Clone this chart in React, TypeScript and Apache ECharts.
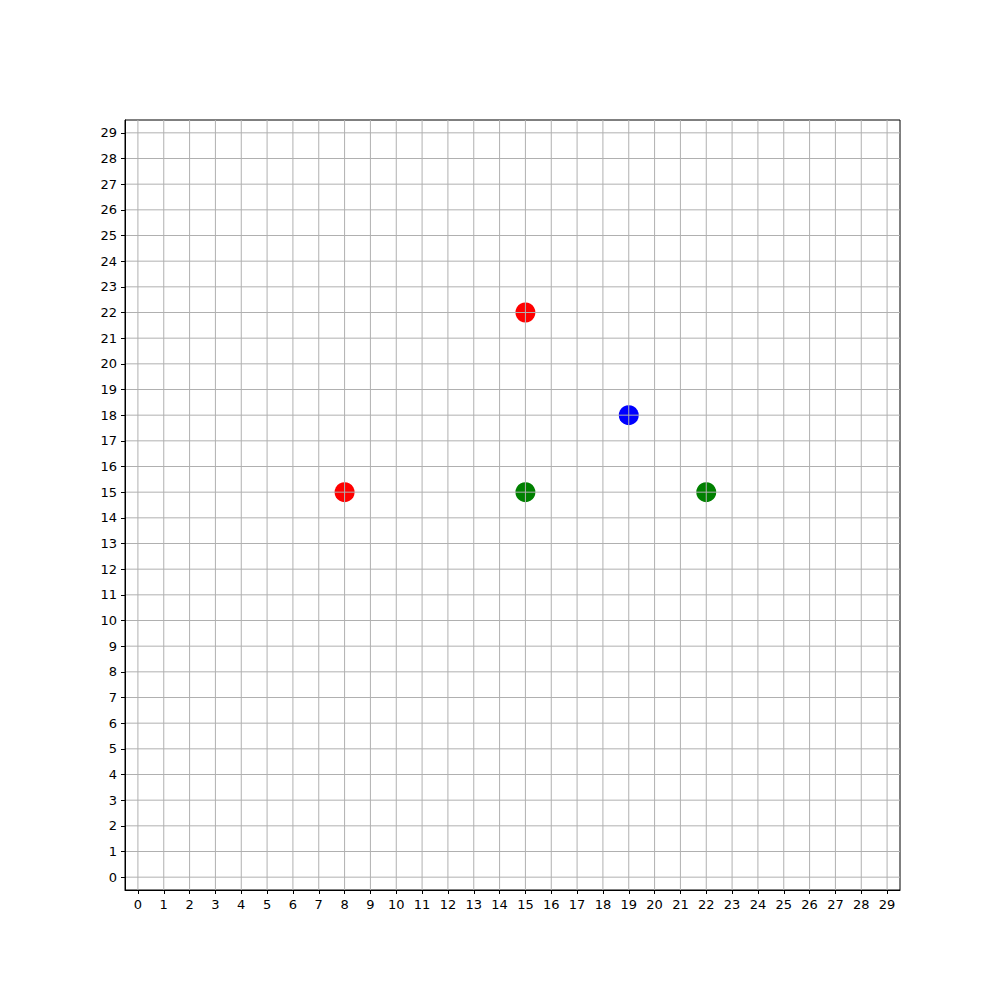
import React, { useEffect, useRef } from "react";
import * as echarts from "echarts";

const ticks = Array.from({ length: 30 }, (_, i) => i);
const redPoints: [number, number][] = [[15, 22], [8, 15]];
const bluePoints: [number, number][] = [[19, 18]];
const greenPoints: [number, number][] = [[15, 15], [22, 15]];

export default function App() {
  const ref = useRef<HTMLDivElement>(null);
  useEffect(() => {
    const chart = echarts.init(ref.current!, null, { renderer: "svg" });
    const axisCommon = {
      type: "value" as const,
      min: -0.5,
      max: 29.5,
      interval: 1,
      z: 5,
      axisLine: { show: true, onZero: false, lineStyle: { color: "#000", width: 1 } },
      axisTick: { show: true, length: 4, lineStyle: { color: "#000" }, customValues: ticks },
      axisLabel: {
        color: "#000",
        fontFamily: "DejaVu Sans",
        fontSize: 13,
        customValues: ticks,
      },
      splitLine: { show: false },
    };
    const option: any = {
      animation: false,
      backgroundColor: "#fff",
      grid: { left: 125, top: 120, width: 775, height: 770, show: true, borderColor: "#000", borderWidth: 1, backgroundColor: "transparent" },
      xAxis: { ...axisCommon, axisLabel: { ...axisCommon.axisLabel, margin: 8 } },
      yAxis: { ...axisCommon, axisLabel: { ...axisCommon.axisLabel, margin: 8 } },
      series: [
        { type: "scatter", data: redPoints, symbolSize: 20, itemStyle: { color: "#ff0000", opacity: 1 }, z: 2 },
        { type: "scatter", data: bluePoints, symbolSize: 20, itemStyle: { color: "#0000ff", opacity: 1 }, z: 2 },
        { type: "scatter", data: greenPoints, symbolSize: 20, itemStyle: { color: "#008000", opacity: 1 }, z: 2 },
        {
          type: "custom",
          z: 4,
          silent: true,
          data: ticks,
          renderItem: (params: any, api: any) => {
            const v = api.value(0);
            const p0 = api.coord([v, -0.5]);
            const p1 = api.coord([v, 29.5]);
            const q0 = api.coord([-0.5, v]);
            const q1 = api.coord([29.5, v]);
            const style = { stroke: "#b0b0b0", lineWidth: 1 };
            return {
              type: "group",
              children: [
                { type: "line", shape: { x1: p0[0], y1: p0[1], x2: p1[0], y2: p1[1] }, style },
                { type: "line", shape: { x1: q0[0], y1: q0[1], x2: q1[0], y2: q1[1] }, style },
              ],
            };
          },
        },
      ],
    };
    chart.setOption(option);
    return () => chart.dispose();
  }, []);
  return <div ref={ref} style={{ width: 1000, height: 1000, margin: -8 }} />;
}
